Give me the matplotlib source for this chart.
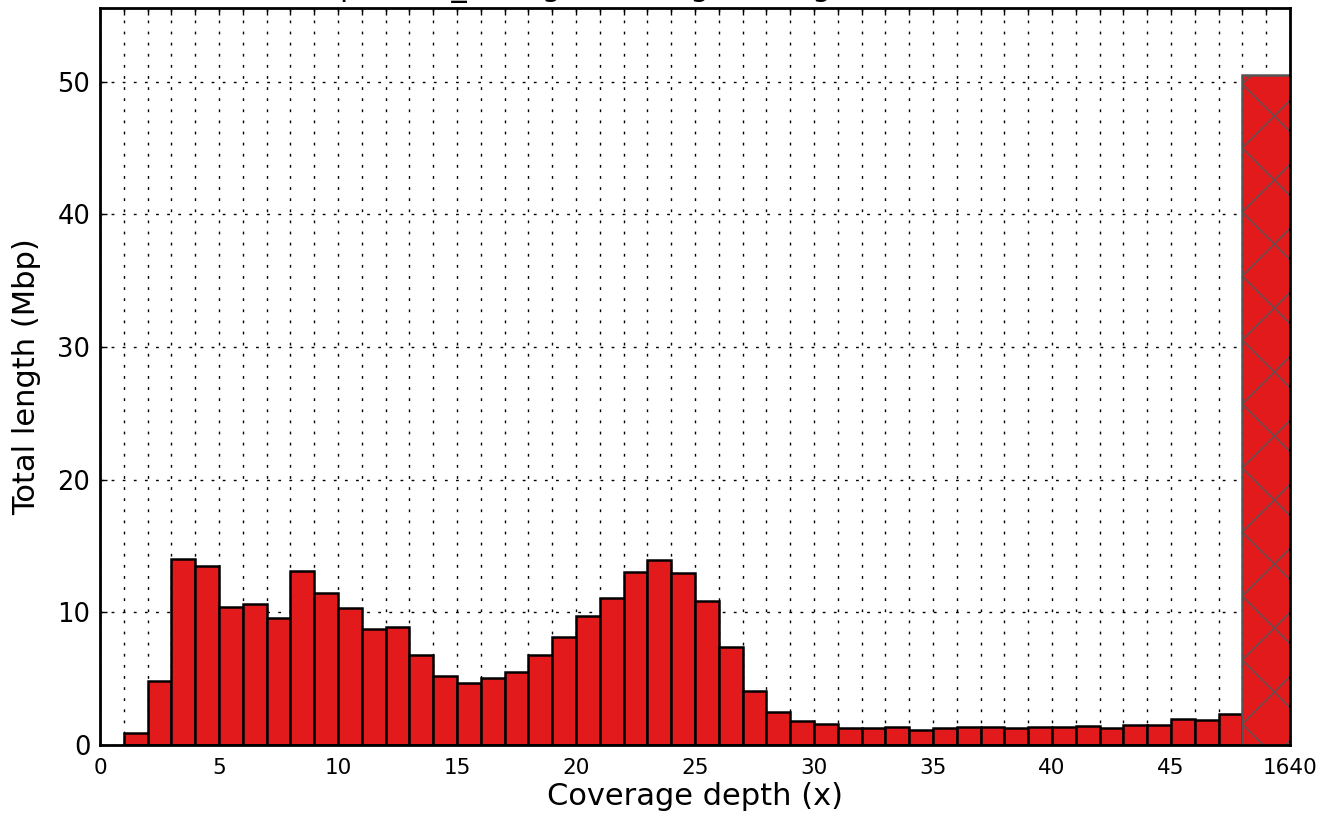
import numpy as np
import matplotlib
matplotlib.use("Agg")
import matplotlib.pyplot as plt
from matplotlib.ticker import MultipleLocator
from matplotlib.collections import LineCollection

# total length (Mbp) per 1x coverage bin, depths 1..47
depth = np.arange(1, 48)
total_mbp = [0.88, 4.85, 14.0, 13.49, 10.42, 10.6, 9.55, 13.14, 11.48, 10.3,
             8.72, 8.92, 6.8, 5.2, 4.7, 5.07, 5.52, 6.78, 8.16, 9.75,
             11.05, 13.06, 13.94, 12.99, 10.85, 7.41, 4.07, 2.46, 1.78, 1.57,
             1.28, 1.27, 1.35, 1.12, 1.29, 1.33, 1.36, 1.26, 1.38, 1.39,
             1.42, 1.29, 1.53, 1.49, 1.93, 1.91, 2.34]
# everything from 48x up to the maximum depth goes in one wide bar
tail_mbp = 50.5
max_depth = 1640

plt.rcParams['font.family'] = ['DejaVu Sans']


def cross_hatch(ax, patch, step=64, color='#555555'):
    # wide "x" hatch (built-in hatches are too dense), clipped to the bar
    bb = patch.get_window_extent()
    x0, y0, x1, y1 = bb.x0, bb.y0, bb.x1, bb.y1
    h = y1 - y0 + (x1 - x0)
    segs = []
    for k in range(-int(h / step) - 2, int(h / step) + 3):
        c = y0 + 21 + step * k
        segs.append([(x0, c), (x1, c + (x1 - x0))])
        segs.append([(x0, c), (x1, c - (x1 - x0))])
    inv = ax.transData.inverted()
    segs = [inv.transform(s) for s in segs]
    lc = LineCollection(segs, colors=color, linewidths=1.0, zorder=4)
    ax.add_collection(lc)
    lc.set_clip_path(patch)


fig = plt.figure(figsize=(13.23, 8.17), dpi=100)
ax = fig.add_axes([0.0756, 0.0881, 0.8994, 0.9021])

ax.bar(depth, total_mbp, width=1, align='edge', color='#e31a1c',
       edgecolor='black', linewidth=1.8, zorder=3)
tail = ax.bar(depth[-1] + 1, tail_mbp, width=2, align='edge', color='#e31a1c',
              edgecolor='#555555', linewidth=1.8, zorder=3)

ax.set_xlim(0, 50)
ax.set_ylim(0, tail_mbp * 1.1)
cross_hatch(ax, tail.patches[0])

xt = np.arange(0, 51, 5)
ax.set_xticks(xt)
ax.set_xticklabels([str(v) for v in xt[:-1]] + [str(max_depth)])
ax.xaxis.set_minor_locator(MultipleLocator(1))
ax.set_yticks(np.arange(0, 51, 10))

ax.tick_params(axis='both', which='both', direction='in', top=True, right=True,
               length=5, width=1)
ax.tick_params(axis='x', labelsize=15.5, pad=9)
ax.tick_params(axis='y', labelsize=18.5, pad=7)

dots = (0, (2, 6))
ax.grid(axis='x', which='both', linestyle=dots, color='black', linewidth=1, zorder=0)
ax.grid(axis='y', which='major', linestyle=dots, color='black', linewidth=1, zorder=0)
ax.set_axisbelow(True)

for s in ax.spines.values():
    s.set_linewidth(2)
    s.set_zorder(5)

ax.set_xlabel('Coverage depth (x)', fontsize=22, labelpad=3)
ax.set_ylabel('Total length (Mbp)', fontsize=22, labelpad=12)
ax.set_title('phased_contigs coverage histogram in 1x bins',
             fontsize=22, pad=8.8)

fig.savefig('out.png', dpi=100)
